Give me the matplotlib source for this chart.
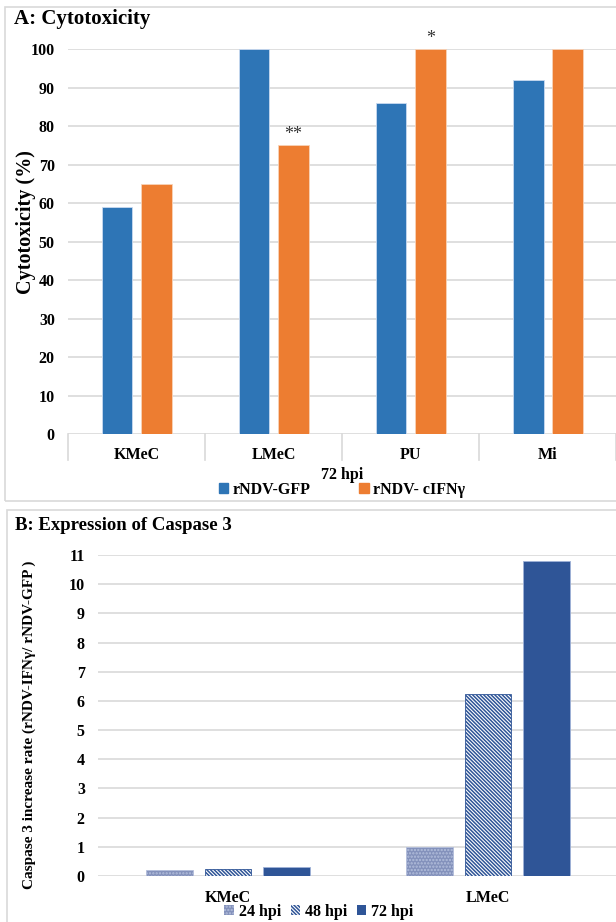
import numpy as np
import matplotlib.pyplot as plt
from matplotlib.patches import Rectangle, Patch
import matplotlib.transforms as mtransforms

# datos panel A: citotoxicidad a las 72 hpi
celulas_A = ['KMeC', 'LMeC', 'PU', 'Mi']
citotox_gfp = [59, 100, 86, 92]
citotox_ifn = [65, 75, 100, 100]
signif_ifn = ['', '**', '*', '']
serie_A = ['rNDV-GFP', 'rNDV- cIFNγ']

# datos panel B: caspasa 3 (rNDV-IFNγ / rNDV-GFP)
celulas_B = ['KMeC', 'LMeC']
tiempos = ['24 hpi', '48 hpi', '72 hpi']
caspasa = [[0.22, 1.0],    # 24 hpi
           [0.23, 6.25],   # 48 hpi
           [0.32, 10.8]]   # 72 hpi

plt.rcParams['font.family'] = ['Liberation Serif', 'DejaVu Serif']
plt.rcParams['font.weight'] = 'bold'
plt.rcParams['axes.labelweight'] = 'bold'
plt.rcParams['hatch.linewidth'] = 1.1

W, H = 616, 922
fig = plt.figure(figsize=(W / 100, H / 100), dpi=100)

def caja(x0, y0, x1, y1):
    # rectangulo en pixeles (origen arriba a la izquierda) -> coordenadas de figura
    return [x0 / W, 1 - y1 / H, (x1 - x0) / W, (y1 - y0) / H]

gris = '#d9d9d9'
azul, naranja = '#2e75b6', '#ed7d31'
azul_osc = '#2f5597'

# marcos de cada panel
for x0, y0, x1, y1 in [(5, 7, 640, 501), (7, 510, 640, 960)]:
    r = caja(x0, y0, x1, y1)
    fig.patches.append(Rectangle((r[0], r[1]), r[2], r[3], transform=fig.transFigure,
                                 fill=False, edgecolor=gris, lw=1.2))

#%% Panel A
ax = fig.add_axes(caja(68, 49, 619, 434))
x = np.arange(len(celulas_A))
ancho = 0.225
b1 = ax.bar(x - 0.143, citotox_gfp, ancho, color=azul, edgecolor='#c9daf0', lw=0.6, zorder=3)
b2 = ax.bar(x + 0.143, citotox_ifn, ancho, color=naranja, edgecolor='#f8d3b8', lw=0.6, zorder=3)
for xi, v, s in zip(x, citotox_ifn, signif_ifn):
    if s:
        ax.annotate(s, (xi + 0.143, v), xytext=(0, 1.5), textcoords='offset points',
                    ha='center', va='bottom', fontsize=13, fontweight='normal', color='#333333')
ax.set_xlim(-0.5, len(celulas_A) - 0.5 + 0.02)
ax.set_ylim(0, 100)
ax.set_yticks(range(0, 101, 10))
ax.yaxis.grid(True, color=gris, lw=1.2, zorder=0)
ax.tick_params(axis='y', length=0, pad=9.5, labelsize=11.5)
ax.set_xticks(x)
ax.set_xticklabels(celulas_A)
ax.tick_params(axis='x', length=0, pad=9, labelsize=11.5)
for sp in ax.spines.values():
    sp.set_visible(False)
# separadores de categorias debajo del eje
trans = mtransforms.blended_transform_factory(ax.transData, ax.transAxes)
for xs in np.arange(-0.5, len(celulas_A), 1.0):
    ax.plot([xs, xs], [0, -0.068], transform=trans, color=gris, lw=1.2, clip_on=False)
ax.set_ylabel('Cytotoxicity (%)', fontsize=14.5)
ax.yaxis.set_label_coords(-0.058, 0.55)
fig.text(14 / W, 1 - 19 / H, 'A: Cytotoxicity', fontsize=15, va='center', ha='left')
fig.text(342 / W, 1 - 475 / H, '72 hpi', fontsize=11.5, va='center', ha='center')
manejadores = [Patch(color=azul), Patch(color=naranja)]
fig.legend(manejadores, serie_A, loc='center', bbox_to_anchor=(342 / W, 1 - 490 / H),
           ncol=2, frameon=False, fontsize=11.5, handlelength=0.6, handleheight=0.6,
           handletextpad=0.3, columnspacing=3.0, borderpad=0)

#%% Panel B
ax2 = fig.add_axes(caja(98, 555, 618, 876))
xb = np.arange(len(celulas_B))
estilos = [dict(color='#8391bb', hatch='.....', edgecolor='#b3bedb'),
           dict(facecolor='white', hatch='\\' * 9, edgecolor=azul_osc),
           dict(color=azul_osc, edgecolor='#9fb2d8')]
desp = [-0.225, 0, 0.225]
for vals, d, est in zip(caspasa, desp, estilos):
    ax2.bar(xb + d, vals, 0.177, lw=0.6, zorder=3, **est)
ax2.set_xlim(-0.5, 1.5)
ax2.set_ylim(0, 11)
ax2.set_yticks(range(0, 12))
ax2.yaxis.grid(True, color=gris, lw=1.2, zorder=0)
ax2.tick_params(axis='y', length=0, pad=9.5, labelsize=11.5)
ax2.set_xticks(xb)
ax2.set_xticklabels(celulas_B)
ax2.tick_params(axis='x', length=0, pad=10, labelsize=11.5)
for sp in ax2.spines.values():
    sp.set_visible(False)
ax2.set_ylabel('Caspase 3 increase rate (rNDV-IFNγ/ rNDV-GFP )', fontsize=11)
ax2.yaxis.set_label_coords(-0.12, 0.47)
fig.text(15 / W, 1 - 526 / H, 'B: Expression of Caspase 3', fontsize=13.5, va='center', ha='left')
manejadores2 = [Patch(facecolor=e.get('color', e.get('facecolor')), hatch=e.get('hatch'),
                      edgecolor=e['edgecolor'], lw=0) for e in estilos]
fig.legend(manejadores2, tiempos, loc='center', bbox_to_anchor=(319 / W, 1 - 912 / H),
           ncol=3, frameon=False, fontsize=11.5, handlelength=0.6, handleheight=0.6,
           handletextpad=0.3, columnspacing=0.6, borderpad=0)

plt.savefig('out.png', dpi=100)
